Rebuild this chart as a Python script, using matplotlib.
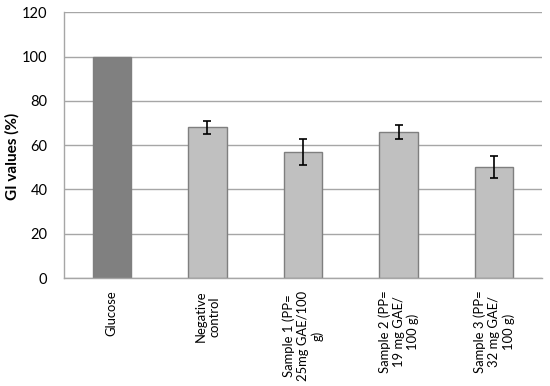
import matplotlib
matplotlib.use("Agg")
import matplotlib.pyplot as plt

categories = ["Glucose", "Negative\ncontrol", "Sample 1 (PP=\n25mg GAE/100\ng)",
              "Sample 2 (PP=\n19 mg GAE/\n100 g)", "Sample 3 (PP=\n32 mg GAE/\n100 g)"]
gi_values = [100, 68, 57, 66, 50]
gi_errors = [0, 3, 6, 3, 5]
y_ticks = [0, 20, 40, 60, 80, 100, 120]

plt.rcParams['font.family'] = ['Lato', 'DejaVu Sans']

fig = plt.figure(figsize=(5.5, 3.86), dpi=100)
ax = fig.add_axes([64/550, 1-278/386, (542-64)/550, (278-12.3)/386])

x = list(range(len(categories)))
colors = ['#808080'] + ['#c0c0c0'] * (len(categories) - 1)
ax.bar(x, gi_values, width=0.40, color=colors, edgecolor='#7f7f7f', linewidth=1, zorder=3)
ex = x[1:]
ax.errorbar(ex, gi_values[1:], yerr=gi_errors[1:], fmt='none', ecolor='black',
            elinewidth=1.2, capsize=3, capthick=1.2, zorder=4)

ax.set_xlim(-0.5, len(categories) - 0.5)
ax.set_ylim(0, 120)
ax.set_yticks(y_ticks)
ax.set_yticklabels([str(v) for v in y_ticks], fontsize=10.5)
ax.set_xticks(x)
ax.set_xticklabels(categories, rotation=90, fontsize=9.4, ha='center', va='top',
                   multialignment='center', linespacing=1.2)
ax.tick_params(axis='both', length=0)
ax.tick_params(axis='y', pad=12)
ax.tick_params(axis='x', pad=9)

ax.grid(axis='y', color='#a6a6a6', linewidth=1, zorder=0)
for s in ['top', 'right']:
    ax.spines[s].set_visible(False)
for s in ['left', 'bottom']:
    ax.spines[s].set_color('#a6a6a6')
    ax.spines[s].set_linewidth(1)
    ax.spines[s].set_zorder(5)

ax.set_ylabel('GI values (%)', fontsize=11, fontweight='bold')
ax.yaxis.set_label_coords(-0.092, 0.459)

fig.savefig('out.png', dpi=100)
